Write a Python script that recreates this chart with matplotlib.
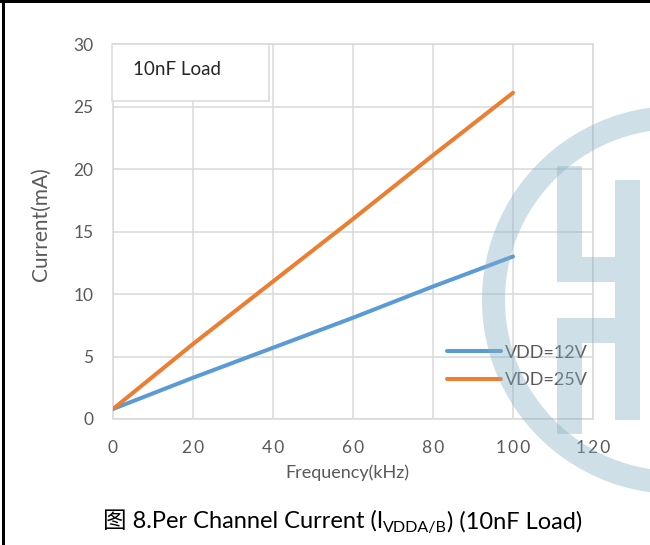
import matplotlib
matplotlib.use('Agg')
import matplotlib.pyplot as plt
from matplotlib.patches import Rectangle, Wedge

plt.rcParams['font.family'] = ['Lato', 'Noto Sans CJK SC', 'DejaVu Sans']

# data
freq_khz = [0, 20, 40, 60, 80, 100]
cur_12v = [0.8, 3.3, 5.7, 8.1, 10.6, 13.0]
cur_25v = [0.8, 6.0, 11.0, 16.0, 21.1, 26.1]
series_names = ['VDD=12V', 'VDD=25V']
x_ticks = [0, 20, 40, 60, 80, 100, 120]
y_ticks = [0, 5, 10, 15, 20, 25, 30]

grey_txt = '#595959'
grid_c = '#d9d9d9'

fig = plt.figure(figsize=(6.5, 5.45), dpi=100)
ax = fig.add_axes([0.1738, 0.2312, 0.7385, 0.688])

ax.plot(freq_khz, cur_12v, color='#5b9bd5', lw=2.9, solid_capstyle='round', label=series_names[0], zorder=3)
ax.plot(freq_khz, cur_25v, color='#ed7d31', lw=2.9, solid_capstyle='round', label=series_names[1], zorder=3)

ax.set_xlim(0, 120)
ax.set_ylim(0, 30)
ax.set_xticks(x_ticks)
ax.set_yticks(y_ticks)
# x labels in the reference are letter-spaced
ax.set_xticklabels(['\u2009'.join(str(v)) for v in x_ticks])
ax.tick_params(length=0, labelsize=12.5, labelcolor=grey_txt)
ax.tick_params(axis='y', pad=14)
ax.tick_params(axis='x', pad=15)
ax.grid(True, color=grid_c, lw=1.1)
ax.set_axisbelow(True)
for s in ax.spines.values():
    s.set_color(grid_c)
    s.set_linewidth(1.1)

ax.set_xlabel('Frequency(kHz)', fontsize=13, color=grey_txt)
ax.xaxis.set_label_coords(0.4875, -0.144)
ax.xaxis.label.set_va('center')
ax.set_ylabel('Current(mA)', fontsize=15, color=grey_txt)
ax.yaxis.set_label_coords(-0.15, 0.52)
ax.yaxis.label.set_va('center')

# "10nF Load" box
ax.add_patch(Rectangle((-0.002, 0.847), 0.327, 0.153, transform=ax.transAxes,
                       facecolor='white', edgecolor=grid_c, lw=1.1, clip_on=False, zorder=4))
ax.text(0.042, 0.933, '10nF Load', transform=ax.transAxes, fontsize=13.5,
        color='#262626', va='center', ha='left', zorder=5)

leg = ax.legend(loc='upper left', bbox_to_anchor=(0.696, 0.198), frameon=False,
                fontsize=13, handlelength=3.0, handletextpad=0.2, labelspacing=0.63,
                borderpad=0, borderaxespad=0)
for t in leg.get_texts():
    t.set_color(grey_txt)

# watermark logo + page frame, drawn in pixel space on top
ov = fig.add_axes([0, 0, 1, 1], zorder=10)
ov.set_xlim(0, 650)
ov.set_ylim(545, 0)
ov.axis('off')
ov.patch.set_visible(False)
wm = dict(facecolor=(135/255, 175/255, 195/255), edgecolor='none', alpha=0.4)
ov.add_patch(Wedge((676, 300), 194, 0, 360, width=23, **wm))
ov.add_patch(Rectangle((615, 180), 25, 240, **wm))
ov.add_patch(Rectangle((557, 166), 25, 116, **wm))
ov.add_patch(Rectangle((582, 257), 33, 25, **wm))
ov.add_patch(Rectangle((557, 318), 25, 116, **wm))
ov.add_patch(Rectangle((582, 318), 33, 25, **wm))
ov.add_patch(Rectangle((0, 0), 650, 3, facecolor='black', edgecolor='none'))
ov.add_patch(Rectangle((2, 0), 3, 545, facecolor='black', edgecolor='none'))

# caption in three pieces so the subscript can be smaller
cap1 = ov.text(103, 522, '图 8.Per Channel Current (I', fontsize=17, color='black',
               ha='left', va='center')
cap2 = ov.annotate('VDDA/B', xy=(1, 0), xycoords=cap1, xytext=(0, -1.5),
                   textcoords='offset points', fontsize=11.5, color='black',
                   ha='left', va='bottom')
cap3 = ov.annotate(') (10nF Load)', xy=(1, 0), xycoords=(cap2, cap1), fontsize=17,
                   color='black', ha='left', va='bottom')

fig.savefig('out.png', dpi=100)
